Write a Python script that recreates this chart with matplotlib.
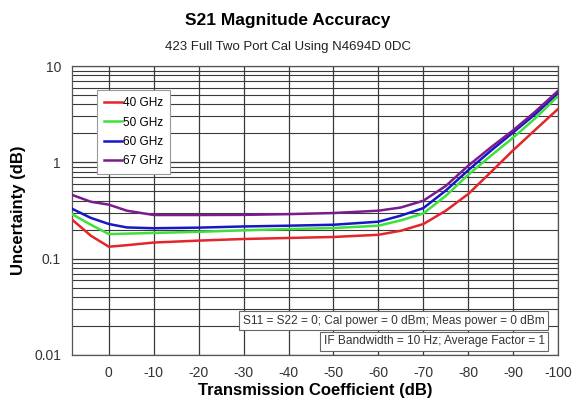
import matplotlib

matplotlib.use("Agg")
import matplotlib.pyplot as plt
from matplotlib.ticker import LogLocator, FixedLocator, NullFormatter

plt.rcParams["font.family"] = ["Liberation Sans", "DejaVu Sans"]

# transmission coefficient (dB) and uncertainty (dB)
x_db = [8.2, 4, 0, -4, -10, -20, -30, -40, -50, -60, -65, -70, -75, -80, -85, -90, -95, -100]
u_40 = [0.255, 0.173, 0.133, 0.138, 0.147, 0.154, 0.160, 0.164, 0.168, 0.177, 0.195, 0.229,
        0.315, 0.47, 0.79, 1.34, 2.2, 3.6]
u_50 = [0.29, 0.225, 0.180, 0.182, 0.185, 0.190, 0.197, 0.203, 0.208, 0.220, 0.250, 0.295,
        0.45, 0.745, 1.17, 1.81, 2.9, 4.9]
u_60 = [0.33, 0.265, 0.229, 0.211, 0.207, 0.210, 0.216, 0.220, 0.225, 0.242, 0.280, 0.335,
        0.51, 0.83, 1.32, 2.05, 3.2, 5.3]
u_67 = [0.46, 0.39, 0.364, 0.315, 0.284, 0.284, 0.285, 0.290, 0.298, 0.315, 0.340, 0.40,
        0.57, 0.925, 1.43, 2.16, 3.4, 5.55]

series = [("40 GHz", u_40, "#e4252b"), ("50 GHz", u_50, "#3ee03a"),
          ("60 GHz", u_60, "#1717c8"), ("67 GHz", u_67, "#7b1c8c")]
x_ticks = [0, -10, -20, -30, -40, -50, -60, -70, -80, -90, -100]

fig = plt.figure(figsize=(5.76, 4.01), dpi=100)
ax = fig.add_axes([0.125, 0.115, 0.844, 0.72])

for label, ys, c in series:
    ax.plot(x_db, ys, color=c, lw=1.8, label=label, zorder=3)

ax.set_yscale("log")
ax.set_ylim(0.01, 10)
ax.set_xlim(8.2, -100)
ax.xaxis.set_major_locator(FixedLocator(x_ticks))
ax.set_xticklabels([str(t) for t in x_ticks])
ax.yaxis.set_minor_locator(LogLocator(base=10, subs=range(2, 10), numticks=20))
ax.yaxis.set_minor_formatter(NullFormatter())
ax.set_yticks([0.01, 0.1, 1, 10])
ax.set_yticklabels(["0.01", "0.1", "1", "10"])

ax.grid(which="major", color="#3a3a3a", lw=0.9)
ax.grid(which="minor", axis="y", color="#3a3a3a", lw=0.8)
ax.tick_params(which="both", length=0, labelsize=10, labelcolor="#333333", pad=8)
for s in ax.spines.values():
    s.set_color("#555555")
    s.set_linewidth(0.9)

ax.set_xlabel("Transmission Coefficient (dB)", fontsize=12, fontweight="bold", labelpad=2)
ax.set_ylabel("Uncertainty (dB)", fontsize=12, fontweight="bold", labelpad=6)

fig.text(0.5, 0.95, "S21 Magnitude Accuracy", ha="center", va="center",
         fontsize=12.5, fontweight="bold")
fig.text(0.5, 0.882, "423 Full Two Port Cal Using N4694D 0DC", ha="center",
         va="center", fontsize=9.5, color="#222222")

leg = ax.legend(loc="upper left", bbox_to_anchor=(0.052, 0.917), borderaxespad=0,
                fontsize=8.5, handlelength=1.5, handletextpad=0.1, labelspacing=0.62,
                fancybox=False, framealpha=1, edgecolor="#999999", borderpad=0.6)
leg.get_frame().set_linewidth(0.8)

box = dict(boxstyle="square,pad=0.3", fc="white", ec="#666666", lw=0.8)
ax.text(0.972, 0.118, "S11 = S22 = 0; Cal power = 0 dBm; Meas power = 0 dBm",
        transform=ax.transAxes, ha="right", va="center", fontsize=8.6,
        color="#333333", bbox=box, zorder=5)
ax.text(0.972, 0.047, "IF Bandwidth = 10 Hz; Average Factor = 1",
        transform=ax.transAxes, ha="right", va="center", fontsize=8.6,
        color="#333333", bbox=box, zorder=5)

fig.savefig("out.png", dpi=100)
